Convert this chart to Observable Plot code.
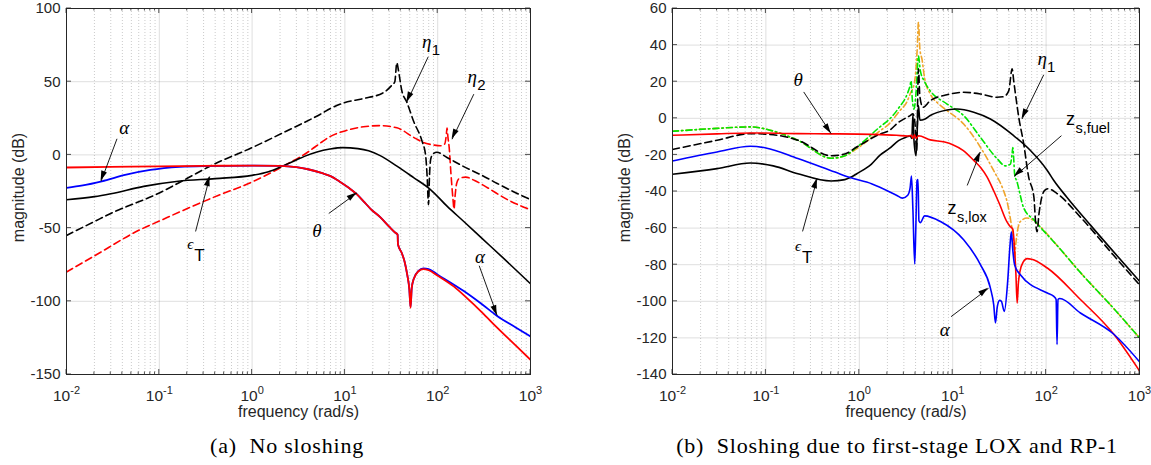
<!DOCTYPE html>
<html><head><meta charset="utf-8">
<script src="https://cdn.jsdelivr.net/npm/d3@7"></script>
<script src="https://cdn.jsdelivr.net/npm/@observablehq/plot@0.6"></script>
<style>
html,body{margin:0;padding:0;background:#fff;}
#wrap{position:relative;width:1151px;height:465px;overflow:hidden;background:#fff;}
.panel{position:absolute;top:0;}
.cap{position:absolute;font-family:"Liberation Serif","DejaVu Serif",serif;font-size:22px;line-height:26px;letter-spacing:0.8px;color:#000;white-space:nowrap;transform:translateX(-50%);}
</style></head><body>
<div id="wrap">
  <div class="panel" id="pa" style="left:0px"></div>
  <div class="panel" id="pb" style="left:576px"></div>
  <div class="cap" style="left:287px;top:433px">(a)&nbsp;&nbsp;No sloshing</div>
  <div class="cap" style="left:897px;top:433px">(b)&nbsp;&nbsp;Sloshing due to first-stage LOX and RP-1</div>
</div>
<script>
// ---------- tick values ----------
const decades = [0.01, 0.1, 1, 10, 100, 1000];
const minorMultipliers = [2, 3, 4, 5, 6, 7, 8, 9];
const yTicksA = [-150, -100, -50, 0, 50, 100];
const yTicksB = [-140, -120, -100, -80, -60, -40, -20, 0, 20, 40, 60];
const xLabel = "frequency (rad/s)";
const yLabel = "magnitude (dB)";

// ---------- (a) No sloshing : [frequency rad/s, magnitude dB] ----------
const thetaA = [[0.01,-8.6],[0.03,-8.2],[0.1,-7.8],[0.3,-7.5],[1,-7.3],[2,-7.5],[3,-8.4],[4,-9.8],[5.7,-12.5],[7,-14.5],[8.9,-18.5],[11,-22.5],[13.5,-27],[15.8,-31.5],[19,-37],[24,-42.5],[30,-49],[34.7,-53],[37,-54.5],[37.3,-61],[41,-67],[44,-73],[47,-82],[49.5,-92],[51,-104.5],[52.5,-91],[55,-85],[62,-79.5],[70,-78],[80,-78.8],[100,-82.5],[150,-90],[200,-97],[300,-107.5],[437,-118],[700,-130.5],[1000,-140]];
const alphaA = [[0.01,-22.5],[0.015,-20.8],[0.024,-18],[0.044,-13.5],[0.08,-10.3],[0.165,-8.2],[0.3,-7.6],[1,-7.3],[2,-7.5],[3,-8.4],[4,-9.8],[5.7,-12.5],[7,-14.5],[8.9,-18.5],[11,-22.5],[13.5,-27],[15.8,-31.5],[19,-37],[24,-42.5],[30,-49],[34.7,-53],[37,-54.5],[37.3,-61],[41,-67],[44,-73],[47,-82],[49.5,-92],[51,-104],[52.5,-91],[55,-85],[62,-79.3],[70,-77.6],[80,-78],[100,-81.8],[191,-93],[300,-102],[437,-110],[700,-118],[1000,-124]];
const epsA = [[0.01,-30.6],[0.02,-28.5],[0.03,-26.5],[0.068,-21.5],[0.16,-18],[0.4,-16.2],[1,-14],[1.5,-11.5],[2.15,-7.5],[3,-3.5],[3.66,-1],[5,2],[6.9,4],[9.5,5],[13.8,4.3],[18,2.8],[24,-0.5],[36,-7.5],[55,-15.5],[83,-23.5],[126,-35],[191,-45.5],[300,-57],[500,-70],[1000,-88]];
const eta1A = [[0.01,-55],[0.02,-45.5],[0.03,-40],[0.1,-26],[0.2,-16],[0.37,-7],[1,5],[2.3,16],[5.7,28.5],[6.9,31.5],[9.7,35.5],[15.8,38.5],[26,42.5],[32,47.5],[34.5,50],[36.3,63],[37.8,57.5],[41,44],[46.5,36],[55,23],[67.6,9.6],[74,0],[77,-15],[79.6,-34],[81.5,-15],[84,-3],[90,1],[98,1.8],[126,-1.8],[191,-8],[290,-13.5],[438,-19.5],[700,-26],[1000,-30.5]];
const eta2A = [[0.01,-80],[0.02,-69],[0.0625,-51],[0.1,-45.2],[0.165,-39],[0.4,-28.5],[1,-18.5],[2.2,-7.5],[4,2],[5.7,9],[6.9,12.5],[10,16.4],[15.8,19.2],[24,20],[36.3,18.5],[55,12],[70,8.5],[90,6.8],[107,6.2],[119,7.5],[124,14],[126,18.3],[129,12],[133,5],[139,-13],[146,-30],[150,-37],[154,-28],[160,-19.5],[170,-16.2],[200,-15.2],[250,-17.5],[344,-22.4],[558,-30.4],[1000,-37.5]];

// ---------- (b) Sloshing ----------
const thetaB = [[0.01,-9.3],[0.03,-8.5],[0.068,-8],[0.22,-8.4],[0.5,-8.5],[1.35,-8.8],[2.5,-9.3],[3.3,-9.7],[3.6,-9.3],[3.75,-11],[3.9,-9],[4.05,-11],[4.3,-9.5],[5.75,-11.8],[8.2,-13],[10,-14.4],[12.9,-17.5],[16.8,-23],[20,-27],[23.3,-32],[27.7,-40],[31.8,-47],[38,-56.5],[41,-59],[44,-60.5],[45.5,-68],[47.5,-85],[49,-101],[50.5,-90],[52.5,-83.6],[57,-78.5],[62.5,-76.7],[70,-77],[103,-81.8],[233,-99],[531,-118],[1000,-138]];
const alphaB = [[0.01,-23.3],[0.03,-18.4],[0.068,-15.3],[0.1,-16.2],[0.22,-22],[0.55,-29.4],[0.8,-32.4],[1.35,-35.7],[2.5,-42],[2.9,-43.6],[3.3,-42],[3.5,-38],[3.62,-31.5],[3.75,-50],[3.92,-79.6],[4.02,-62],[4.15,-34],[4.25,-33.5],[4.35,-56],[4.5,-57],[5.0,-53.3],[7.4,-56.4],[13.1,-66.4],[19.8,-80],[25.3,-92.7],[27.5,-102],[28.7,-111.8],[30,-103],[31.8,-99.5],[33.2,-100],[35.7,-105.5],[38.8,-89],[41,-70],[42.5,-62],[44,-72],[46,-80],[53,-85.5],[103,-95.5],[121,-97.3],[128,-99],[131,-123.6],[134,-99],[140,-98.5],[233,-106.4],[531,-118],[1000,-133]];
const epsB = [[0.01,-30.6],[0.03,-27.5],[0.068,-24.4],[0.12,-26],[0.22,-30.3],[0.5,-34.3],[0.7,-33.5],[0.8,-32.4],[0.94,-30.3],[1.35,-25],[1.68,-20],[2.1,-16.5],[2.63,-12.2],[3.3,-10],[3.5,-9.5],[3.65,-11],[3.75,2],[3.85,-12],[4.05,-20.5],[4.2,-3],[4.3,7],[4.45,-1],[5.0,-0.5],[5.75,1.5],[8.7,4.5],[11.1,5.1],[16.8,3.3],[25.3,-0.4],[45,-9.5],[68,-17.6],[103,-28.5],[121,-34],[166,-43],[300,-58.5],[1000,-89]];
const eta1B = [[0.01,-17],[0.03,-12],[0.068,-8.4],[0.12,-9],[0.22,-12],[0.5,-20.5],[0.7,-19.5],[0.94,-15.7],[1.68,-8.5],[2.1,-6.6],[2.63,-2.2],[3.5,1.5],[3.75,2.5],[3.95,-3],[4.1,-18],[4.3,27],[4.45,12],[4.8,6],[5.75,9.6],[8.7,12.9],[13,14.2],[19.8,13.3],[29.8,11.5],[35,11.8],[39.8,15],[43.3,27],[45,20.5],[51,0.5],[57.6,-14],[65,-32],[74,-43],[77,-56],[80,-62],[84,-52],[90,-43],[96,-39.5],[105,-38.5],[130,-41],[233,-54],[531,-75],[1000,-91]];
const zLoxB = [[0.01,-7.1],[0.03,-5.5],[0.068,-4.7],[0.12,-7],[0.22,-12],[0.5,-21.8],[0.7,-20.5],[0.94,-16.6],[1.68,-6.7],[2.1,-2.9],[2.63,3.3],[3.3,10],[3.5,13.3],[3.9,19.6],[4.16,37],[4.3,52.4],[4.45,38],[4.7,32],[5.0,22],[5.75,13.3],[7.1,7.8],[8.7,4.2],[13.1,-3.1],[19.8,-15.8],[27.4,-28.5],[35,-39.5],[38.2,-45.5],[42.2,-57.3],[44.5,-65],[46,-76],[47.5,-68],[50,-60],[53,-56.4],[62.5,-54.5],[74,-56],[80,-57.5],[131,-69.5],[233,-84.3],[531,-104],[1000,-120]];
const zFuelB = [[0.01,-7.1],[0.03,-5.5],[0.068,-4.7],[0.12,-7],[0.22,-12],[0.5,-21.8],[0.7,-20.5],[0.94,-15.8],[1.68,-4.5],[2.1,-0.5],[2.63,5.5],[3.3,14],[3.5,18],[3.58,20.5],[3.7,10],[3.85,5],[4.05,14],[4.3,34],[4.5,26],[5.0,20],[5.75,15],[8.7,7.8],[13.1,1.5],[19.8,-10.4],[29.8,-22],[36.6,-26],[41.5,-25],[43.3,-19],[44,-16],[45,-22],[46,-30.4],[49,-35],[57.6,-49],[74,-55.5],[80,-57.5],[131,-69.5],[233,-84.3],[531,-104],[1000,-120]];

// ---------- annotations ----------
const labelsA = [
  {x:0.042, y:18.5, t:"α", sub:""},
  {x:76, y:77, t:"η", sub:"1"},
  {x:235, y:53, t:"η", sub:"2"},
  {x:5.0, y:-52, t:"θ", sub:""},
  {x:0.216, y:-61, t:"ϵ", sub:"T"},
  {x:285, y:-70, t:"α", sub:""}
];
const arrowsA = [
  [0.035, 11, 0.0236, -18],
  [79, 67, 46.5, 36],
  [245, 41.5, 143, 10.7],
  [6.7, -40, 13.5, -26],
  [0.246, -52.3, 0.35, -14.8],
  [280, -75.7, 438, -109.8]
];
const labelsB = [
  {x:0.221, y:20.8, t:"θ", sub:""},
  {x:90.6, y:32.4, t:"η", sub:"1"},
  {x:182, y:-0.4, t:"z", sub:"s,fuel"},
  {x:9.8, y:-49, t:"z", sub:"s,lox"},
  {x:0.221, y:-70, t:"ϵ", sub:"T"},
  {x:8.2, y:-115.7, t:"α", sub:""}
];
const arrowsB = [
  [0.254, 14.4, 0.5, -8.4],
  [94.4, 23.8, 55.3, -0.4],
  [146, -9.5, 45.8, -31.8],
  [14.3, -36.7, 19.8, -18.5],
  [0.247, -61.8, 0.354, -33],
  [9.6, -108.4, 24.2, -92.9]
];

// ---------- drawing ----------
const SANS = "'Liberation Sans', Arial, Helvetica, sans-serif";
const SERIF = "'Liberation Serif', 'DejaVu Serif', serif";
const minors = decades.slice(0, -1).flatMap(d => minorMultipliers.map(m => m * d));
const RED = "#ff0000", BLUE = "#0000ff", BLACK = "#000000", GREEN = "#00e600", ORANGE = "#efa52b";
const AXC = "#262626";

function makePanel({series, yDomain, yTicks, labels, arrows, width, mLeft, mRight}) {
  const H = 425, mTop = 8, mBottom = 51;
  const lineMarks = series.map(s => Plot.line(s.data, {
    x: d => d[0], y: d => d[1], stroke: s.color, strokeWidth: s.w || 1.6,
    strokeDasharray: s.dash, curve: "monotone-x", clip: true
  }));
  const greek = labels.filter(d => d.t !== "z" && d.t !== "ϵ");
  const eps = labels.filter(d => d.t === "ϵ");
  const zs = labels.filter(d => d.t === "z");
  const svg = Plot.plot({
    width, height: H, marginLeft: mLeft, marginRight: mRight, marginTop: mTop, marginBottom: mBottom,
    style: {fontFamily: SANS, fontSize: "15px", color: AXC, background: "#fff", overflow: "visible"},
    x: {type: "log", domain: [0.01, 1000]},
    y: {domain: yDomain},
    marks: [
      Plot.gridX({ticks: minors, stroke: AXC, strokeOpacity: 0.3, strokeDasharray: "1,2", strokeWidth: 0.8}),
      Plot.gridX({ticks: decades, stroke: AXC, strokeOpacity: 0.15, strokeWidth: 1}),
      Plot.gridY({ticks: yTicks, stroke: AXC, strokeOpacity: 0.15, strokeWidth: 1}),
      ...lineMarks,
      Plot.link(arrows, {x1: d => d[0], y1: d => d[1], x2: d => d[2], y2: d => d[3], stroke: "#000", strokeWidth: 0.9}),
      Plot.text(greek, {x: "x", y: "y", text: "t", fontFamily: SERIF, fontStyle: "italic", fontSize: 19, fill: "#000"}),
      Plot.text(greek.filter(d => d.sub), {x: "x", y: "y", text: "sub", fontFamily: SANS, fontSize: 15, fill: "#000", textAnchor: "start", dx: 5, dy: 8}),
      Plot.text(eps, {x: "x", y: "y", text: "t", fontFamily: SERIF, fontStyle: "italic", fontSize: 15, fill: "#000"}),
      Plot.text(eps, {x: "x", y: "y", text: "sub", fontFamily: SANS, fontSize: 17, fill: "#000", textAnchor: "start", dx: 4, dy: 11}),
      Plot.text(zs, {x: "x", y: "y", text: "t", fontFamily: SANS, fontSize: 18, fill: "#000"}),
      Plot.text(zs, {x: "x", y: "y", text: "sub", fontFamily: SANS, fontSize: 14.5, fill: "#000", textAnchor: "start", dx: 5, dy: 9}),
      Plot.axisY({ticks: yTicks, tickSize: 0, tickPadding: 6, tickFormat: d => String(d), label: null, fontSize: 15, fill: AXC}),
      Plot.axisX({ticks: decades, tickSize: 0, tickPadding: 15.5, tickFormat: d => "10^" + Math.round(Math.log10(d)), label: null, fontSize: 15.5, fill: AXC}),
      Plot.text([xLabel], {frameAnchor: "bottom", dy: 37.5, lineAnchor: "middle", textAnchor: "middle", fontSize: 16, fill: AXC}),
      Plot.text([yLabel], {frameAnchor: "left", dx: -47.5, dy: -4, rotate: -90, lineAnchor: "middle", textAnchor: "middle", fontSize: 16, fill: AXC}),
      Plot.frame({stroke: AXC, strokeWidth: 1})
    ]
  });
  const xs = svg.scale("x"), ys = svg.scale("y");
  const X = v => xs.apply(v), Y = v => ys.apply(v);
  const root = d3.select(svg);
  // inward ticks on all four sides
  const g = root.append("g").attr("stroke", AXC).attr("stroke-width", 0.8).attr("fill", "none");
  const seg = (a, b, c, d) => g.append("line").attr("x1", a).attr("y1", b).attr("x2", c).attr("y2", d);
  const xl = X(0.01), xr = X(1000), yt = Y(yDomain[1]), yb = Y(yDomain[0]);
  decades.forEach(v => { const p = X(v); seg(p, yb, p, yb - 5); seg(p, yt, p, yt + 5); });
  minors.forEach(v => { const p = X(v); seg(p, yb, p, yb - 2.5); seg(p, yt, p, yt + 2.5); });
  yTicks.forEach(v => { const p = Y(v); seg(xl, p, xl + 5, p); seg(xr, p, xr - 5, p); });
  // filled arrow heads
  const hg = root.append("g").attr("fill", "#000");
  arrows.forEach(a => {
    const x1 = X(a[0]), y1 = Y(a[1]), x2 = X(a[2]), y2 = Y(a[3]);
    const ang = Math.atan2(y2 - y1, x2 - x1), L = 10, W = 3;
    const bx = x2 - L * Math.cos(ang), by = y2 - L * Math.sin(ang);
    const px = -Math.sin(ang) * W, py = Math.cos(ang) * W;
    hg.append("path").attr("d", `M${x2},${y2}L${bx + px},${by + py}L${bx - px},${by - py}Z`);
  });
  // superscript exponents in x tick labels
  root.selectAll('g[aria-label="x-axis tick label"] text').each(function () {
    const parts = this.textContent.split("^");
    if (parts.length !== 2) return;
    this.textContent = "";
    const t = d3.select(this);
    t.append("tspan").text(parts[0]);
    t.append("tspan").attr("dy", "-0.6em").style("font-size", "11px").text(parts[1]);
  });
  return svg;
}

const svgA = makePanel({
  series: [
    {data: eta2A, color: RED, dash: "7,4"},
    {data: eta1A, color: BLACK, dash: "7,4"},
    {data: epsA, color: BLACK},
    {data: alphaA, color: BLUE, w: 1.8},
    {data: thetaA, color: RED, w: 1.8}
  ],
  yDomain: [-150, 100], yTicks: yTicksA, labels: labelsA, arrows: arrowsA,
  width: 576, mLeft: 66, mRight: 46
});
document.getElementById("pa").appendChild(svgA);

const svgB = makePanel({
  series: [
    {data: zLoxB, color: ORANGE, dash: "6,3,1.5,3"},
    {data: zFuelB, color: GREEN, dash: "6,3,1.5,3"},
    {data: eta1B, color: BLACK, dash: "7,4"},
    {data: epsB, color: BLACK},
    {data: thetaB, color: RED},
    {data: alphaB, color: BLUE}
  ],
  yDomain: [-140, 60], yTicks: yTicksB, labels: labelsB, arrows: arrowsB,
  width: 575, mLeft: 96, mRight: 12
});
document.getElementById("pb").appendChild(svgB);
</script>
</body></html>
